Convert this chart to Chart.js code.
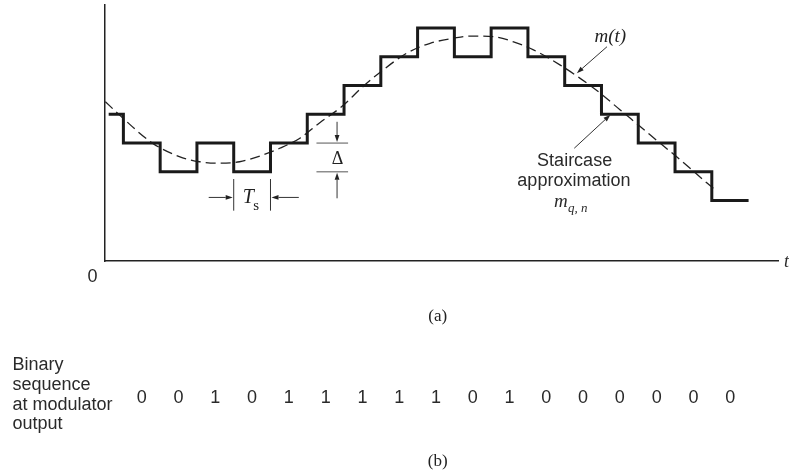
<!DOCTYPE html>
<html>
<head>
<meta charset="utf-8">
<script src="https://cdn.jsdelivr.net/npm/chart.js@4"></script>
<style>
  html, body { margin: 0; padding: 0; background: #fff; }
  canvas { display: block; }
</style>
</head>
<body>
<canvas id="dmChart" width="789" height="471"></canvas>
<script>
// time in units of the sampling period Ts, amplitude in units of the step size delta
const bits = [0, 0, 1, 0, 1, 1, 1, 1, 1, 0, 1, 0, 0, 0, 0, 0, 0];
const bitTimes = [1, 2, 3, 4, 5, 6, 7, 8, 9, 10, 11, 12, 13, 14, 15, 16, 17];

// staircase approximation m_q,n (each level holds until the next time)
const stairTimes = [0.1, 0.5, 1.5, 2.5, 3.5, 4.5, 5.5, 6.5, 7.5, 8.5, 9.5, 10.5, 11.5, 12.5, 13.5, 14.5, 15.5, 16.5, 17.5];
const stairLevels = [0, -1, -2, -1, -2, -1, 0, 1, 2, 3, 2, 3, 2, 1, 0, -1, -2, -3, -3];

// message signal m(t)
const msgTimes = [0.01, 0.39, 1.30, 2.02, 2.57, 3.12, 3.66, 4.21, 4.75, 5.30, 5.84, 6.43, 7.02, 7.56, 8.20,
  8.84, 9.47, 9.93, 10.56, 11.11, 11.65, 12.38, 12.92, 13.47, 14.01, 14.56, 15.10, 15.65, 16.38, 16.55];
const msgValues = [0.44, -0.02, -1.01, -1.47, -1.65, -1.70, -1.65, -1.45, -1.18, -0.83, -0.29, 0.26, 0.97, 1.54, 2.12,
  2.47, 2.64, 2.72, 2.70, 2.52, 2.24, 1.71, 1.25, 0.73, 0.15, -0.43, -1.01, -1.59, -2.40, -2.58];

const sideLabel = ['Binary', 'sequence', 'at modulator', 'output'];

const SANS = "'Liberation Sans', Arial, sans-serif";
const SERIF = "'Liberation Serif', 'Times New Roman', serif";
const INK = '#2a2a2a';

function arrow(ctx, x1, y1, x2, y2) {
  const a = Math.atan2(y2 - y1, x2 - x1);
  const len = 7, half = 2.4;
  const bx = x2 - len * Math.cos(a), by = y2 - len * Math.sin(a);
  ctx.beginPath();
  ctx.moveTo(x1, y1);
  ctx.lineTo(bx, by);
  ctx.stroke();
  ctx.beginPath();
  ctx.moveTo(x2, y2);
  ctx.lineTo(bx + half * Math.sin(a), by - half * Math.cos(a));
  ctx.lineTo(bx - half * Math.sin(a), by + half * Math.cos(a));
  ctx.closePath();
  ctx.fill();
}

const annotations = {
  id: 'annotations',
  afterDraw(chart) {
    const { ctx, scales: { x, y } } = chart;
    const px = v => x.getPixelForValue(v);
    const py = v => y.getPixelForValue(v);

    ctx.save();
    ctx.strokeStyle = '#333';
    ctx.fillStyle = '#222';
    ctx.lineWidth = 1;

    // Ts marker between two transitions
    const tsY = py(-2.89);
    ctx.beginPath();
    ctx.moveTo(px(3.5), py(-2.25)); ctx.lineTo(px(3.5), py(-3.35));
    ctx.moveTo(px(4.5), py(-2.25)); ctx.lineTo(px(4.5), py(-3.35));
    ctx.stroke();
    arrow(ctx, px(2.82), tsY, px(3.5) - 1, tsY);
    arrow(ctx, px(5.27), tsY, px(4.5) + 1, tsY);
    ctx.font = 'italic 20px ' + SERIF;
    ctx.textAlign = 'center';
    ctx.textBaseline = 'alphabetic';
    ctx.fillText('T', px(3.9), py(-3.09));
    ctx.font = '15px ' + SERIF;
    ctx.textAlign = 'left';
    ctx.fillText('s', px(4.03), py(-3.33));

    // step size delta
    ctx.strokeStyle = '#555';
    ctx.beginPath();
    ctx.moveTo(px(5.75), py(-1)); ctx.lineTo(px(6.61), py(-1));
    ctx.moveTo(px(5.75), py(-2)); ctx.lineTo(px(6.61), py(-2));
    ctx.stroke();
    ctx.strokeStyle = '#333';
    arrow(ctx, px(6.31), py(-0.26), px(6.31), py(-1) - 1);
    arrow(ctx, px(6.31), py(-2.92), px(6.31), py(-2) + 1);
    ctx.font = '18px ' + SERIF;
    ctx.textAlign = 'center';
    ctx.fillText('\u0394', px(6.32), py(-1.73));

    // m(t) label
    ctx.font = 'italic 19px ' + SERIF;
    ctx.fillText('m(t)', px(13.74), py(2.52));
    arrow(ctx, px(13.65), py(2.35), px(12.83), py(1.43));

    // staircase label
    arrow(ctx, px(12.76), py(-1.18), px(13.74), py(-0.02));
    ctx.fillStyle = INK;
    ctx.font = '18px ' + SANS;
    ctx.fillText('Staircase', px(12.77), py(-1.79));
    ctx.fillText('approximation', px(12.75), py(-2.49));
    ctx.textAlign = 'left';
    ctx.font = 'italic 19px ' + SERIF;
    ctx.fillText('m', px(12.21), py(-3.21));
    ctx.font = 'italic 13px ' + SERIF;
    ctx.fillText('q, n', px(12.59), py(-3.41));

    // origin and time axis
    ctx.fillStyle = INK;
    ctx.font = '18px ' + SANS;
    ctx.textAlign = 'center';
    ctx.textBaseline = 'middle';
    ctx.fillText('0', chart.chartArea.left - 12.5, chart.chartArea.bottom + 16);
    ctx.font = 'italic 18px ' + SERIF;
    ctx.textAlign = 'left';
    ctx.fillText('t', 784, chart.chartArea.bottom + 1);

    // captions
    ctx.fillStyle = '#222';
    ctx.font = '17px ' + SERIF;
    ctx.textAlign = 'center';
    ctx.fillText('(a)', 437.7, 317);
    ctx.fillText('(b)', 437.7, 462);

    // binary sequence under the time axis
    ctx.fillStyle = INK;
    ctx.font = '18px ' + SANS;
    ctx.textAlign = 'left';
    ctx.textBaseline = 'alphabetic';
    sideLabel.forEach((line, i) => ctx.fillText(line, 12.5, 370 + i * 19.8));
    ctx.textAlign = 'center';
    bits.forEach((b, i) => ctx.fillText(String(b), px(bitTimes[i]), 402.7));

    ctx.restore();
  }
};

new Chart(document.getElementById('dmChart'), {
  type: 'line',
  data: {
    datasets: [
      {
        label: 'Staircase approximation',
        data: stairTimes.map((t, i) => ({ x: t, y: stairLevels[i] })),
        stepped: true,
        borderColor: '#1a1a1a',
        borderWidth: 3,
        borderJoinStyle: 'miter',
        borderCapStyle: 'butt',
        pointRadius: 0,
        fill: false
      },
      {
        label: 'm(t)',
        data: msgTimes.map((t, i) => ({ x: t, y: msgValues[i] })),
        borderColor: '#222',
        borderWidth: 1.3,
        borderDash: [10, 5],
        cubicInterpolationMode: 'monotone',
        pointRadius: 0,
        fill: false
      }
    ]
  },
  options: {
    responsive: false,
    animation: false,
    devicePixelRatio: 1,
    layout: { padding: { left: 105, top: 5, right: 11, bottom: 210 } },
    plugins: {
      legend: { display: false },
      tooltip: { enabled: false }
    },
    scales: {
      x: {
        type: 'linear',
        min: 0,
        max: 18.3,
        grid: { display: false, drawTicks: false, tickLength: 0 },
        ticks: { display: false },
        border: { display: true, color: '#222', width: 1.5 }
      },
      y: {
        min: -5.1,
        max: 3.8,
        grid: { display: false, drawTicks: false, tickLength: 0 },
        ticks: { display: false },
        border: { display: true, color: '#222', width: 1.5 }
      }
    }
  },
  plugins: [annotations]
});
</script>
</body>
</html>
